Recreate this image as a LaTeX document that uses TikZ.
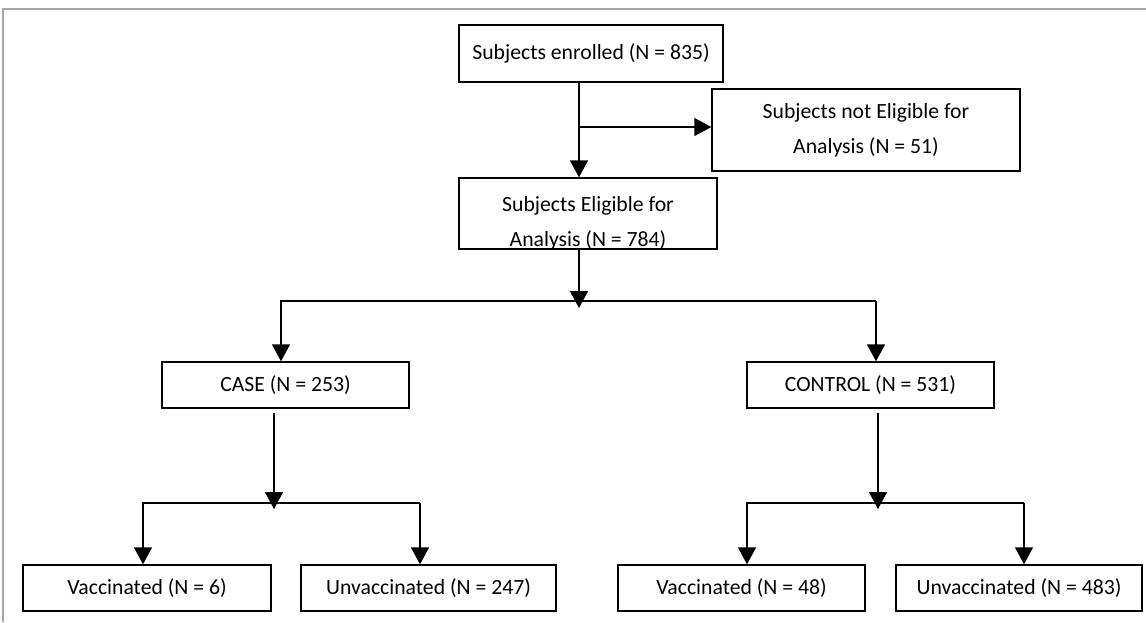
\documentclass[tikz,border=0pt]{standalone}
\usepackage{fontspec}
\setmainfont{Carlito}
\usetikzlibrary{arrows.meta}
\begin{document}
\begin{tikzpicture}[x=1pt,y=-1pt,
  txt/.style={inner sep=0pt, align=center, font=\fontsize{21.7}{35}\selectfont},
  box/.style={draw, line width=1.4pt, txt},
  ln/.style={line width=1.4pt},
  arr/.style={line width=1.4pt, -{Triangle[width=18pt,length=17pt]}},
  frame/.style={draw=gray!70, line width=1.2pt}]
\useasboundingbox (0,0) rectangle (1146,622);
\draw[frame] (3,622) -- (3,9) -- (1146,9);
% boxes
\node[box, minimum width=264pt, minimum height=57pt] (enr) at (591,53.5) {Subjects enrolled (N = 835)};
\node[box, minimum width=308pt, minimum height=82pt] (nel) at (866,130) {Subjects not Eligible for\\Analysis (N = 51)};
\node[box, minimum width=258pt, minimum height=71pt] (elig) at (588,213.5) {};
\begin{scope}
  \clip ([shift={(1.5pt,1.5pt)}]elig.south west) rectangle ([shift={(-1.5pt,-1.5pt)}]elig.north east);
  \node[txt] (eligtxt) at (588,223) {Subjects Eligible for\\Analysis (N = 784)};
\end{scope}
\node[box, minimum width=247pt, minimum height=46pt] (case) at (285.5,385) {CASE (N = 253)};
\node[box, minimum width=247pt, minimum height=46pt] (ctrl) at (870.5,385) {CONTROL (N = 531)};
\node[box, minimum width=248pt, minimum height=46pt] (v6) at (147,588) {Vaccinated (N = 6)};
\node[box, minimum width=255pt, minimum height=46pt] (u247) at (428.5,588) {Unvaccinated (N = 247)};
\node[box, minimum width=247pt, minimum height=46pt] (v48) at (741.5,588) {Vaccinated (N = 48)};
\node[box, minimum width=246pt, minimum height=46pt] (u483) at (1019,588) {Unvaccinated (N = 483)};
% junction coordinates
\coordinate (j1) at (579,127);
\coordinate (j2) at (579,301);
\coordinate (j2t) at (579,308);
\coordinate (cl) at (281,301);
\coordinate (cr) at (876,301);
\coordinate (cs) at (274,503);
\coordinate (cst) at (274,509);
\coordinate (cbl) at (143,503);
\coordinate (cbr) at (420,503);
\coordinate (ks) at (878,503);
\coordinate (kst) at (878,509);
\coordinate (kbl) at (747,503);
\coordinate (kbr) at (1024,503);
% connectors
\draw[arr] (enr.south -| j1) -- (elig.north -| j1);
\draw[arr] (j1) -- (nel.west |- j1);
\draw[arr] (elig.south -| j2) -- (j2t);
\draw[arr] (cr) -- (cl) -- (case.north -| cl);
\draw[arr] (cr) -- (ctrl.north -| cr);
\draw[arr] ([yshift=-4pt]case.south -| cs) -- (cst);
\draw[arr] (cbr) -- (cbl) -- (v6.north -| cbl);
\draw[arr] (cbr) -- (u247.north -| cbr);
\draw[arr] ([yshift=-4pt]ctrl.south -| ks) -- (kst);
\draw[arr] (kbr) -- (kbl) -- (v48.north -| kbl);
\draw[arr] (kbr) -- (u483.north -| kbr);
\end{tikzpicture}
\end{document}
